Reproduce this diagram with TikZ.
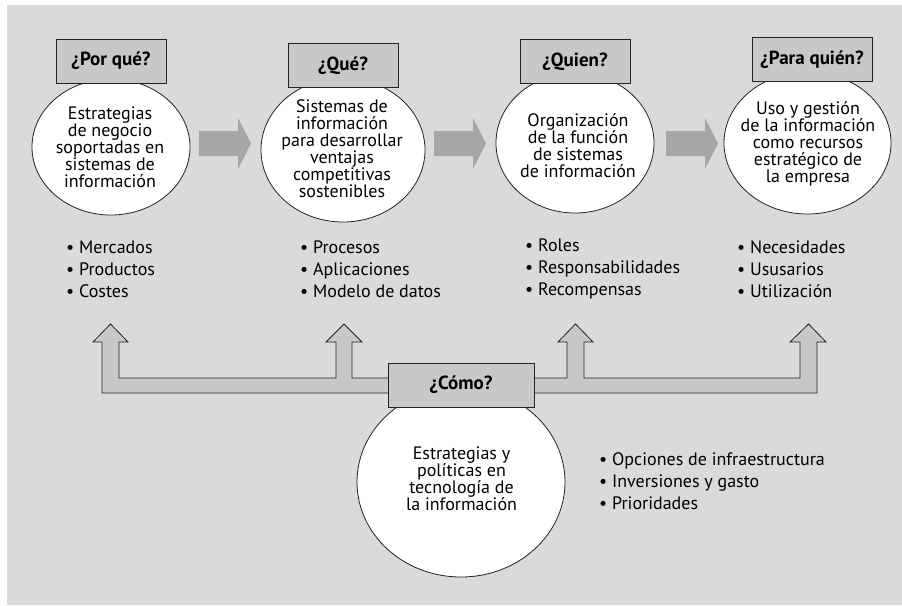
\documentclass[tikz,border=0pt]{standalone}
\usepackage{fontspec}
\setmainfont{PT Sans}
\usetikzlibrary{shapes.geometric}
\definecolor{fondo}{HTML}{DADADA}
\definecolor{caja}{HTML}{C8C8C8}
\definecolor{flecha}{HTML}{A6A6A6}
\definecolor{trazo}{HTML}{222222}
\tikzset{
  pregunta/.style={draw=trazo, fill=caja, line width=0.8pt, minimum height=44pt, inner sep=0pt, font=\fontsize{19}{20}\selectfont\bfseries},
  globo/.style={ellipse, draw=trazo, fill=white, line width=0.8pt, inner sep=0pt},
  texto/.style={align=center, inner sep=0pt, font=\fontsize{18}{17}\selectfont},
  lista/.style={align=left, anchor=west, inner sep=0pt, font=\fontsize{18}{22}\selectfont},
  marco/.style={draw=trazo, fill=caja, line width=0.8pt, line join=miter}
}
\begin{document}
\begin{tikzpicture}[x=1pt, y=-1pt]
  \useasboundingbox (0,0) rectangle (902,605);
  \fill[fondo] (7,5) rectangle (902,605);
  % flechas entre globos
  \foreach \x in {199,434,666}
    \fill[flecha] (\x,131) -- ++(39,0) -- ++(0,-13) -- ++(13,25.5) -- ++(-13,25.5) -- ++(0,-13) -- ++(-39,0) -- cycle;
  % globos de arriba
  \node[globo, minimum width=158pt, minimum height=136pt] (porque) at (111,147) {};
  \node[globo, minimum width=164pt, minimum height=144pt] (que) at (343,150) {};
  \node[globo, minimum width=158pt, minimum height=140pt] (quien) at (575,143) {};
  \node[globo, minimum width=167pt, minimum height=142pt] (paraquien) at (807.5,143) {};
  \node[texto] (tporque) at (110,147) {Estrategias\\de negocio\\soportadas en\\sistemas de\\información};
  \node[texto] (tque) at (342,149) {Sistemas de\\información\\para desarrollar\\ventajas\\competitivas\\sostenibles};
  \node[texto] (tquien) at (578,146) {Organización\\de la función\\de sistemas\\de información};
  \node[texto] (tparaquien) at (808,144) {Uso y gestión\\de la información\\como recursos\\estratégico de\\la empresa};
  % preguntas
  \node[pregunta, minimum width=110pt] (qporque) at (111,61) {¿Por qué?};
  \node[pregunta, minimum width=110pt] (qque) at (343,65.5) {¿Qué?};
  \node[pregunta, minimum width=110pt] (qquien) at (575,61.5) {¿Quien?};
  \node[pregunta, minimum width=120pt] (qparaquien) at (812,59.5) {¿Para quién?};
  % listas
  \node[lista] (lporque) at (66,269) {• Mercados\\• Productos\\• Costes};
  \node[lista] (lque) at (300,269) {• Procesos\\• Aplicaciones\\• Modelo de datos};
  \node[lista] (lquien) at (525,269) {• Roles\\• Responsabilidades\\• Recompensas};
  \node[lista] (lparaquien) at (737,269) {• Necesidades\\• Ususarios\\• Utilización};
  % marco de abajo
  \draw[marco] (102,393) -- (102,342) -- (93,342) -- (110.5,324) -- (128,342) -- (119,342) -- (119,378)
    -- (336,378) -- (336,342) -- (326,342) -- (344,324) -- (362,342) -- (352,342) -- (352,378)
    -- (567,378) -- (567,342) -- (558,342) -- (575.5,324) -- (593,342) -- (584,342) -- (584,378)
    -- (800,378) -- (800,342) -- (790,342) -- (808.5,324) -- (826,342) -- (817,342) -- (817,393) -- cycle;
  \node[globo, minimum width=208pt, minimum height=190pt] (como) at (461,482) {};
  \node[texto] (tcomo) at (461.5,479) {Estrategias y\\políticas en\\tecnología de\\la información};
  \node[pregunta, minimum width=146pt] (qcomo) at (461,385) {¿Cómo?};
  \node[lista] (lcomo) at (599,481) {• Opciones de infraestructura\\• Inversiones y gasto\\• Prioridades};
\end{tikzpicture}
\end{document}
